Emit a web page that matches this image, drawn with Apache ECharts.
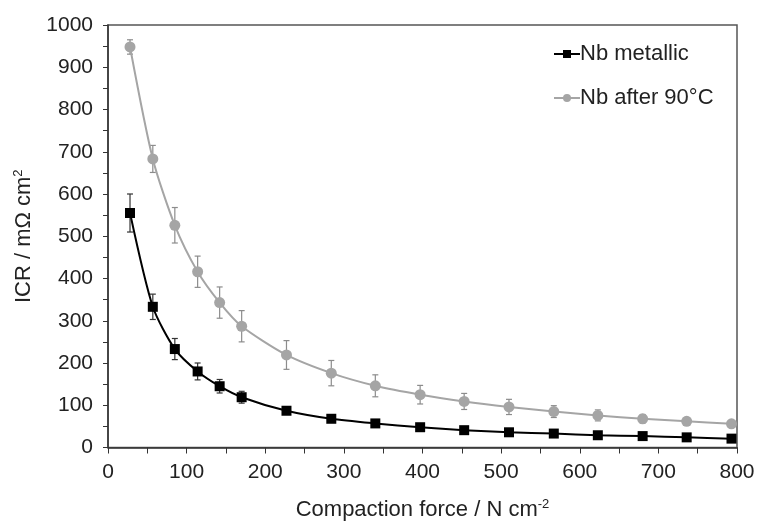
<!DOCTYPE html>
<html>
<head>
<meta charset="utf-8">
<script src="https://cdn.jsdelivr.net/npm/echarts@6/dist/echarts.min.js"></script>
<style>
  html, body { margin: 0; padding: 0; background: #fff; }
  #chart { width: 758px; height: 526px; }
</style>
</head>
<body>
<div id="chart"></div>
<script>
// compaction force, N cm-2
const forces = [28, 57, 85, 114, 142, 170, 227, 284, 340, 397, 453, 510, 567, 623, 680, 736, 793];

// ICR, mOhm cm2
const metallic = [555, 333, 233, 180, 145, 119, 87, 68, 57, 48, 41, 36, 33, 29, 27, 24, 21];
const metallicErr = [45, 30, 25, 20, 16, 14, 8, 6, 5, 4, 4, 3, 3, 3, 3, 3, 3];
const after90 = [948, 683, 526, 416, 343, 287, 219, 176, 146, 125, 109, 96, 85, 76, 68, 62, 56];
const after90Err = [17, 32, 42, 37, 37, 37, 34, 30, 26, 22, 19, 18, 14, 13, 10, 8, 6];

const seriesNames = ['Nb metallic', 'Nb after 90°C'];
const BLACK = '#000000';
const GREY = '#a5a5a5';
const FONT = 'Liberation Sans, Arial, sans-serif';

const toPairs = (ys) => forces.map((x, i) => [x, ys[i]]);
const toErr = (ys, es) => forces.map((x, i) => [x, ys[i] - es[i], ys[i] + es[i]]);

const errorBars = (color) => (params, api) => {
    const x = api.value(0);
    const lo = api.coord([x, api.value(1)]);
    const hi = api.coord([x, api.value(2)]);
    const cap = 3;
    const style = { stroke: color, lineWidth: 1.2 };
    return {
        type: 'group',
        children: [
            { type: 'line', shape: { x1: lo[0], y1: lo[1], x2: hi[0], y2: hi[1] }, style },
            { type: 'line', shape: { x1: lo[0] - cap, y1: lo[1], x2: lo[0] + cap, y2: lo[1] }, style },
            { type: 'line', shape: { x1: hi[0] - cap, y1: hi[1], x2: hi[0] + cap, y2: hi[1] }, style }
        ]
    };
};

const supRich = { sup: { fontSize: 13, verticalAlign: 'top', padding: [0, 0, 12, 0], color: '#222' } };

const chart = echarts.init(document.getElementById('chart'), null, { renderer: 'canvas' });

chart.setOption({
    animation: false,
    textStyle: { fontFamily: FONT },
    grid: {
        left: 108, right: 21, top: 25, bottom: 77,
        show: true, borderColor: '#555', borderWidth: 1.5, backgroundColor: 'transparent'
    },
    legend: {
        data: seriesNames,
        orient: 'vertical',
        left: 548, top: 38,
        itemGap: 22,
        itemWidth: 26, itemHeight: 10,
        textStyle: { color: '#222', fontSize: 22, padding: [0, 0, 0, -5] }
    },
    xAxis: {
        type: 'value', min: 0, max: 800, interval: 100,
        name: 'Compaction force / N cm{sup|-2}',
        nameLocation: 'middle', nameGap: 50,
        nameTextStyle: { color: '#222', fontSize: 22, rich: supRich },
        axisLine: { lineStyle: { color: '#333', width: 1.5 } },
        axisTick: { show: true, inside: false, length: 6, lineStyle: { color: '#333' } },
        minorTick: { show: true, splitNumber: 2, length: 6, lineStyle: { color: '#333' } },
        axisLabel: { color: '#222', fontSize: 21, margin: 14 },
        splitLine: { show: false }
    },
    yAxis: {
        type: 'value', min: 0, max: 1000, interval: 100,
        name: 'ICR / mΩ cm{sup|2}',
        nameLocation: 'middle', nameGap: 71,
        nameTextStyle: { color: '#222', fontSize: 22, rich: supRich },
        axisLine: { lineStyle: { color: '#333', width: 1.5 } },
        axisTick: { show: true, inside: false, length: 5, lineStyle: { color: '#333' } },
        minorTick: { show: true, splitNumber: 2, length: 5, lineStyle: { color: '#333' } },
        axisLabel: { color: '#222', fontSize: 21, margin: 15, formatter: (v) => String(v) },
        splitLine: { show: false }
    },
    series: [
        {
            type: 'custom', name: 'err-metallic', z: 1,
            renderItem: errorBars('#333'),
            data: toErr(metallic, metallicErr),
            encode: { x: 0, y: [1, 2] }
        },
        {
            type: 'custom', name: 'err-after90', z: 1,
            renderItem: errorBars('#8c8c8c'),
            data: toErr(after90, after90Err),
            encode: { x: 0, y: [1, 2] }
        },
        {
            type: 'line', name: seriesNames[0], z: 3,
            data: toPairs(metallic),
            smooth: 0.25,
            symbol: 'rect', symbolSize: 10,
            lineStyle: { color: BLACK, width: 2 },
            itemStyle: { color: BLACK }
        },
        {
            type: 'line', name: seriesNames[1], z: 2,
            data: toPairs(after90),
            smooth: 0.25,
            symbol: 'circle', symbolSize: 11,
            lineStyle: { color: GREY, width: 2 },
            itemStyle: { color: GREY }
        }
    ]
});
</script>
</body>
</html>
